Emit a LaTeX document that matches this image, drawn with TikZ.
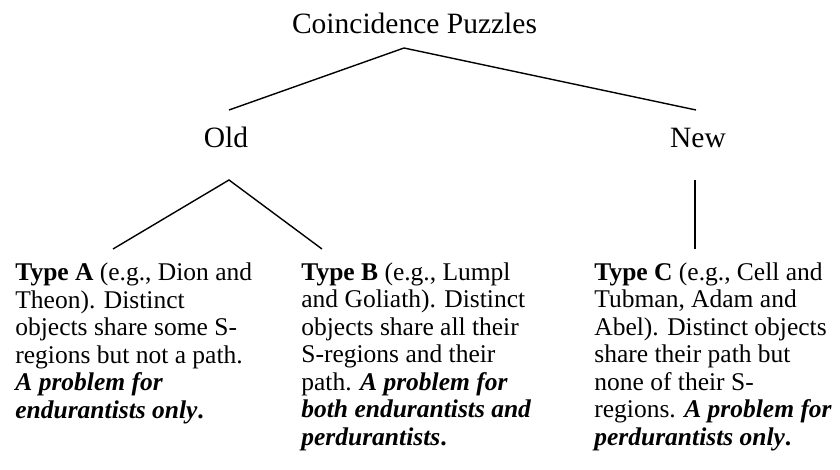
\documentclass[tikz,border=0pt]{standalone}
\usepackage{fontspec}
\setmainfont{Liberation Serif}
\usetikzlibrary{positioning}

\begin{document}
\begin{tikzpicture}[x=0.5pt, y=-0.5pt,
        heading/.style={font=\fontsize{14.75}{17}\selectfont, inner sep=0pt, anchor=base},
        typebox/.style={font=\fontsize{12.75}{13.75}\selectfont, align=left, inner sep=0pt, anchor=base west},
        branch/.style={line width=0.7pt}]
        \useasboundingbox (0,0) rectangle (840,470);
        % Headings
        \node [heading] (puzzles) at (414.5,34) {Coincidence Puzzles};
        \node [heading] (old) at (226,148) {Old};
        \node [heading] (new) at (698,148) {New};
        % Branch ends
        \coordinate (puzzlesfork) at (404,48);
        \coordinate (oldtop) at (229,110);
        \coordinate (newtop) at (696,110);
        \coordinate (oldfork) at (229,180);
        \coordinate (atop) at (113,249);
        \coordinate (btop) at (322,249);
        \coordinate (newfork) at (695,180);
        \coordinate (ctop) at (695,249);
        % Branches
        \draw [branch] (oldtop) -- (puzzlesfork) -- (newtop);
        \draw [branch] (atop) -- (oldfork) -- (btop);
        \draw [branch] (newfork) -- (ctop);
        % Types (placed at the baseline of their last line)
        \node [typebox] (typea) at (15,418) {\textbf{Type A} (e.g., Dion and\\
            Theon). Distinct\\
            objects share some S-\\
            regions but not a path.\\
            \textbf{\textit{A problem for}}\\
            \textbf{\textit{endurantists only}.}};
        \node [typebox] (typeb) at (301,445) {\textbf{Type B} (e.g., Lumpl\\
            and Goliath). Distinct\\
            objects share all their\\
            S-regions and their\\
            path. \textbf{\textit{A problem for}}\\
            \textbf{\textit{both endurantists and}}\\
            \textbf{\textit{perdurantists}.}};
        \node [typebox] (typec) at (594,445) {\textbf{Type C} (e.g., Cell and\\
            Tubman, Adam and\\
            Abel). Distinct objects\\
            share their path but\\
            none of their S-\\
            regions. \textbf{\textit{A problem for}}\\
            \textbf{\textit{perdurantists only}.}};
    \end{tikzpicture}
\end{document}
